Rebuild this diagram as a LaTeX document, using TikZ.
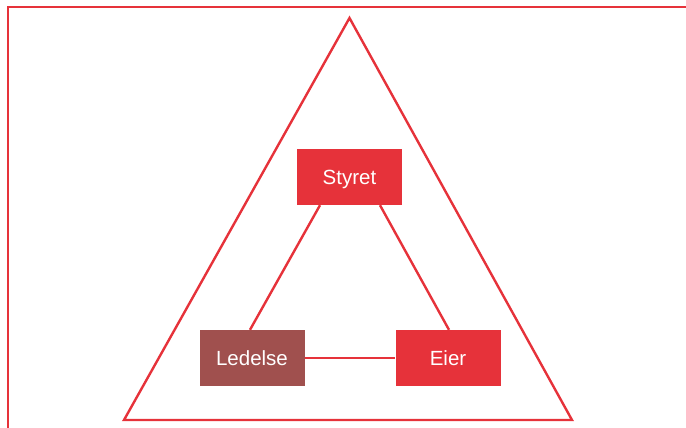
\documentclass[tikz,border=0pt]{standalone}
\usepackage{fontspec}
\setmainfont{Liberation Sans}
\usepackage{tikz}
\usetikzlibrary{calc}
\definecolor{redbox}{HTML}{E6323A}
\definecolor{brownbox}{HTML}{A0504E}

\begin{document}
\begin{tikzpicture}[x=1pt, y=-1pt,
	box/.style={fill=redbox, text=white, minimum width=105pt, minimum height=56pt, inner sep=0pt, text height=14.7pt, text depth=0pt, font=\fontsize{20.5}{24}\selectfont},
	edge/.style={draw=redbox, line width=2.4pt}]
\useasboundingbox (0,0) rectangle (686,428);
\draw[edge] (8,428) -- (8,7) -- (686,7);
\draw[edge, line join=miter] (349.5,18) -- (124,420) -- (572,420) -- cycle;
\node[box] (styret) at (349.5,177) {Styret};
\node[box, fill=brownbox] (ledelse) at (252,358) {Ledelse};
\node[box] (eier) at (448,358) {Eier};
\draw[edge] ($(styret.south)+(-29.5,0)$) -- ($(ledelse.north)+(-2,0)$);
\draw[edge] ($(styret.south)+(30.5,0)$) -- ($(eier.north)+(1,0)$);
\draw[edge] (ledelse.east) -- (eier.west);
\end{tikzpicture}
\end{document}
